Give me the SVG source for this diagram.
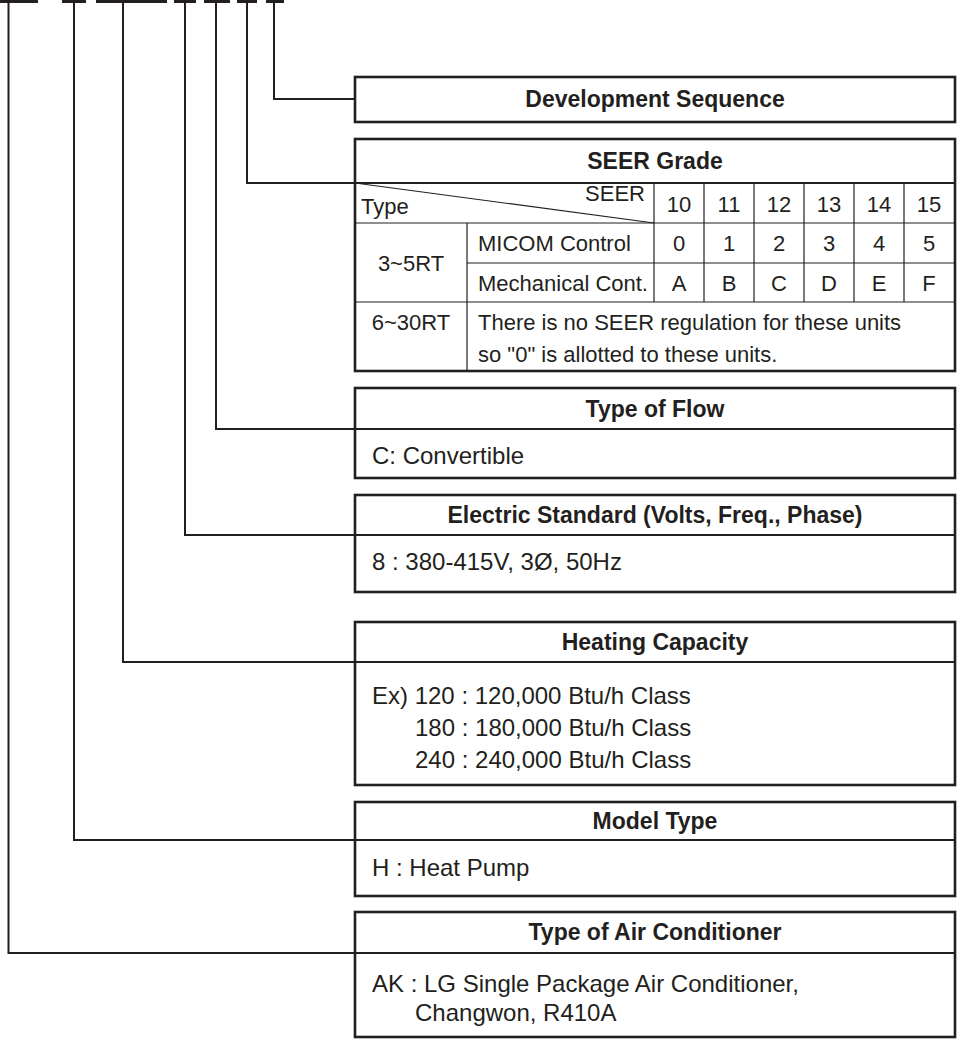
<svg xmlns="http://www.w3.org/2000/svg" width="958" height="1045" viewBox="0 0 958 1045">
<style>
  .bar { fill: #231f20; }
  .conn { fill: none; stroke: #231f20; stroke-width: 2; }
  .box { fill: #fff; stroke: #231f20; stroke-width: 2.6; }
  .div { stroke: #231f20; stroke-width: 2; }
  .thin { stroke: #231f20; stroke-width: 1.2; }
  .title { font-family: "Liberation Sans", Arial, sans-serif; font-weight: bold; font-size: 23px; fill: #231f20; text-anchor: middle; }
  .body { font-family: "Liberation Sans", Arial, sans-serif; font-size: 24px; fill: #231f20; }
  .tbl { font-family: "Liberation Sans", Arial, sans-serif; font-size: 22px; fill: #231f20; }
  .c { text-anchor: middle; }
</style>
<rect width="958" height="1045" fill="#fff"/>
<g id="code-bars">
  <rect class="bar" x="0" y="0" width="38" height="3"/>
  <rect class="bar" x="62" y="0" width="24" height="3"/>
  <rect class="bar" x="96" y="0" width="71" height="3"/>
  <rect class="bar" x="174" y="0" width="22" height="3"/>
  <rect class="bar" x="204" y="0" width="26" height="3"/>
  <rect class="bar" x="237" y="0" width="20" height="3"/>
  <rect class="bar" x="266" y="0" width="18" height="3"/>
</g>
<g id="connectors">
  <polyline class="conn" points="274,2 274,99 355,99"/>
  <polyline class="conn" points="247,2 247,183 355,183"/>
  <polyline class="conn" points="216,2 216,429 355,429"/>
  <polyline class="conn" points="185,2 185,535 355,535"/>
  <polyline class="conn" points="123,2 123,662 355,662"/>
  <polyline class="conn" points="74,2 74,840 355,840"/>
  <polyline class="conn" points="8.5,2 8.5,953 355,953"/>
</g>
<g id="development-sequence">
  <rect class="box" x="355" y="77" width="600" height="45"/>
  <text class="title" x="655" y="107">Development Sequence</text>
</g>
<g id="seer-grade">
  <rect class="box" x="355" y="139" width="600" height="232"/>
  <line class="div" x1="355" y1="183" x2="955" y2="183"/>
  <text class="title" x="655" y="169">SEER Grade</text>
  <line class="thin" x1="355" y1="183" x2="654" y2="223"/>
  <line class="thin" x1="355" y1="223" x2="955" y2="223"/>
  <line class="thin" x1="467" y1="263" x2="955" y2="263"/>
  <line class="thin" x1="355" y1="302" x2="955" y2="302"/>
  <line class="thin" x1="467" y1="223" x2="467" y2="371"/>
  <line class="thin" x1="654" y1="183" x2="654" y2="302"/>
  <line class="thin" x1="704" y1="183" x2="704" y2="302"/>
  <line class="thin" x1="754" y1="183" x2="754" y2="302"/>
  <line class="thin" x1="804" y1="183" x2="804" y2="302"/>
  <line class="thin" x1="854" y1="183" x2="854" y2="302"/>
  <line class="thin" x1="904" y1="183" x2="904" y2="302"/>
  <text class="tbl" x="361" y="214" font-size="20">Type</text>
  <text class="tbl" x="645" y="201" font-size="20" text-anchor="end">SEER</text>
  <text class="tbl c" x="679" y="212">10</text>
  <text class="tbl c" x="729" y="212">11</text>
  <text class="tbl c" x="779" y="212">12</text>
  <text class="tbl c" x="829" y="212">13</text>
  <text class="tbl c" x="879" y="212">14</text>
  <text class="tbl c" x="929" y="212">15</text>
  <text class="tbl c" x="411" y="271">3~5RT</text>
  <text class="tbl" x="478" y="251">MICOM Control</text>
  <text class="tbl c" x="679" y="251">0</text>
  <text class="tbl c" x="729" y="251">1</text>
  <text class="tbl c" x="779" y="251">2</text>
  <text class="tbl c" x="829" y="251">3</text>
  <text class="tbl c" x="879" y="251">4</text>
  <text class="tbl c" x="929" y="251">5</text>
  <text class="tbl" x="478" y="291">Mechanical Cont.</text>
  <text class="tbl c" x="679" y="291">A</text>
  <text class="tbl c" x="729" y="291">B</text>
  <text class="tbl c" x="779" y="291">C</text>
  <text class="tbl c" x="829" y="291">D</text>
  <text class="tbl c" x="879" y="291">E</text>
  <text class="tbl c" x="929" y="291">F</text>
  <text class="tbl c" x="411" y="330">6~30RT</text>
  <text class="tbl" x="478" y="330">There is no SEER regulation for these units</text>
  <text class="tbl" x="478" y="362">so "0" is allotted to these units.</text>
</g>
<g id="type-of-flow">
  <rect class="box" x="355" y="388" width="600" height="90"/>
  <line class="div" x1="355" y1="429" x2="955" y2="429"/>
  <text class="title" x="655" y="417">Type of Flow</text>
  <text class="body" x="372" y="464">C: Convertible</text>
</g>
<g id="electric-standard">
  <rect class="box" x="355" y="495" width="600" height="97"/>
  <line class="div" x1="355" y1="535" x2="955" y2="535"/>
  <text class="title" x="655" y="523">Electric Standard (Volts, Freq., Phase)</text>
  <text class="body" x="372" y="570">8 : 380-415V, 3Ø, 50Hz</text>
</g>
<g id="heating-capacity">
  <rect class="box" x="355" y="622" width="600" height="163"/>
  <line class="div" x1="355" y1="662" x2="955" y2="662"/>
  <text class="title" x="655" y="650">Heating Capacity</text>
  <text class="body" x="372" y="704">Ex) 120 : 120,000 Btu/h Class</text>
  <text class="body" x="415" y="736">180 : 180,000 Btu/h Class</text>
  <text class="body" x="415" y="768">240 : 240,000 Btu/h Class</text>
</g>
<g id="model-type">
  <rect class="box" x="355" y="802" width="600" height="94"/>
  <line class="div" x1="355" y1="840" x2="955" y2="840"/>
  <text class="title" x="655" y="829">Model Type</text>
  <text class="body" x="372" y="876">H : Heat Pump</text>
</g>
<g id="type-of-air-conditioner">
  <rect class="box" x="355" y="912" width="600" height="125"/>
  <line class="div" x1="355" y1="953" x2="955" y2="953"/>
  <text class="title" x="655" y="940">Type of Air Conditioner</text>
  <text class="body" x="372" y="992">AK : LG Single Package Air Conditioner,</text>
  <text class="body" x="415" y="1021">Changwon, R410A</text>
</g>
</svg>
